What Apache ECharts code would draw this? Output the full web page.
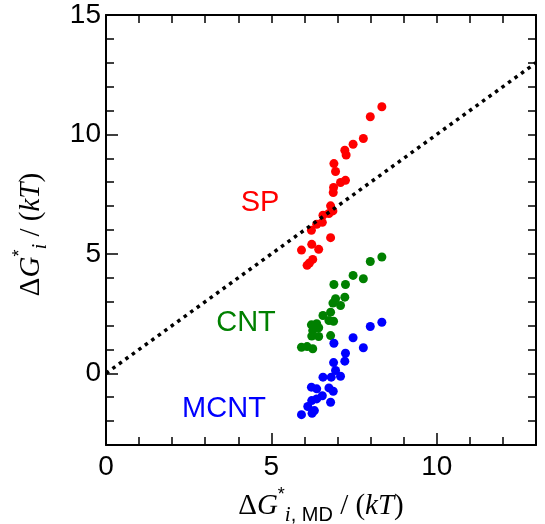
<!DOCTYPE html>
<html>
<head>
<meta charset="utf-8">
<script src="https://cdn.jsdelivr.net/npm/echarts@6/dist/echarts.min.js"></script>
<style>
html, body { margin: 0; padding: 0; background: #fff; }
#chart { width: 545px; height: 524px; }
</style>
</head>
<body>
<div id="chart"></div>
<script>
// tick labels
const xTickLabels = [0, 5, 10];
const yTickLabels = [0, 5, 10, 15];

// data: [dG_MD, dG]
const spPoints = [
    [8.34, 11.16], [7.99, 10.74], [7.78, 9.83], [7.47, 9.59], [7.22, 9.34], [7.26, 9.14],
    [6.89, 8.78], [6.94, 8.45], [7.24, 8.08], [7.09, 7.99], [6.88, 7.78], [6.87, 7.57],
    [6.79, 7.01], [6.86, 6.80], [6.74, 6.69], [6.56, 6.62], [6.54, 6.32], [6.37, 6.24],
    [6.21, 5.99], [6.79, 5.68], [6.22, 5.40], [6.43, 5.19], [5.91, 5.16], [6.25, 4.77],
    [6.15, 4.62], [6.08, 4.52]
];
const cntPoints = [
    [8.34, 4.87], [7.99, 4.68], [7.47, 4.10], [7.78, 3.96], [6.89, 3.72], [7.24, 3.72],
    [7.22, 3.19], [6.94, 3.12], [6.86, 2.94], [7.09, 2.84], [6.79, 2.56], [6.56, 2.42],
    [6.74, 2.21], [6.88, 2.18], [6.37, 2.08], [6.21, 2.03], [6.43, 1.91], [6.25, 1.79],
    [6.79, 1.58], [6.22, 1.56], [6.43, 1.54], [5.91, 1.09], [6.08, 1.12], [6.25, 1.03]
];
const mcntPoints = [
    [8.34, 2.14], [7.99, 1.96], [7.47, 1.49], [7.78, 1.07], [6.89, 1.26], [7.24, 0.84],
    [7.22, 0.51], [6.88, 0.45], [6.94, 0.12], [7.09, -0.12], [6.81, -0.16], [6.56, -0.16],
    [6.74, -0.61], [6.87, -0.75], [6.21, -0.58], [6.37, -0.65], [6.54, -0.94], [6.37, -1.07],
    [6.22, -1.14], [6.79, -1.21], [6.10, -1.39], [6.30, -1.56], [6.23, -1.67], [5.91, -1.73]
];
// y = x reference line
const diagonal = [[0, 0], [13, 13]];

const sans = 'Liberation Sans';
const serif = 'Liberation Serif';

const chart = echarts.init(document.getElementById('chart'));

// rich styles for the axis titles
const nameRich = {
    d: {fontFamily: serif, fontSize: 29, lineHeight: 40, color: '#000'},
    g: {fontFamily: serif, fontStyle: 'italic', fontSize: 29, lineHeight: 40, color: '#000'},
    sup: {fontFamily: sans, fontSize: 18, lineHeight: 18, verticalAlign: 'top', color: '#000'},
    sub: {fontFamily: serif, fontStyle: 'italic', fontSize: 21, lineHeight: 20, verticalAlign: 'bottom', color: '#000'},
    md: {fontFamily: sans, fontSize: 20, lineHeight: 20, verticalAlign: 'bottom', color: '#000'},
    s: {fontFamily: serif, fontSize: 29, lineHeight: 40, color: '#000'},
    k: {fontFamily: serif, fontStyle: 'italic', fontSize: 29, lineHeight: 40, color: '#000'}
};

// a framed axis, ticks inside, no labels
const frame = extra => Object.assign({
    type: 'value',
    splitLine: {show: false},
    axisLine: {show: true, onZero: false, lineStyle: {color: '#000', width: 2}},
    axisTick: {show: true, inside: true, length: 8, lineStyle: {color: '#000', width: 1.5}},
    axisLabel: {show: false}
}, extra);

const majorTicks = values => ({
    show: true, inside: true, length: 12, customValues: values,
    lineStyle: {color: '#000', width: 1.5}
});

const tickLabel = values => ({
    show: true, customValues: values, fontFamily: sans, fontSize: 28, color: '#000'
});

const option = {
    animation: false,
    backgroundColor: '#fff',
    grid: {left: 106, right: 9, top: 15, bottom: 79, outerBoundsMode: 'none', containLabel: false},
    xAxis: [
        frame({
            min: 0, max: 13, interval: 1, position: 'bottom',
            axisLabel: Object.assign(tickLabel(xTickLabels), {margin: 8}),
            name: '{d|Δ}{g|G}{sup|*}{sub|i}{md|, MD}{s| / (}{k|kT}{s|)}',
            nameLocation: 'middle', nameGap: 39,
            nameTextStyle: {rich: nameRich}
        }),
        frame({min: 0, max: 13, interval: 1, position: 'top'}),
        frame({min: 0, max: 13, interval: 1, position: 'bottom',
            axisLine: {show: false, onZero: false}, axisTick: majorTicks(xTickLabels)})
    ],
    yAxis: [
        frame({
            min: -3, max: 15, interval: 1, position: 'left',
            axisLabel: Object.assign(tickLabel(yTickLabels), {margin: 5}),
            name: '{d|Δ}{g|G}{sup|*}{sub|i}{s| / (}{k|kT}{s|)}',
            nameLocation: 'middle', nameGap: 55, nameRotate: 90,
            nameTextStyle: {rich: nameRich, padding: [0, 9, 0, 0]}
        }),
        frame({min: -3, max: 15, interval: 1, position: 'right'}),
        frame({min: -3, max: 15, interval: 1, position: 'left',
            axisLine: {show: false, onZero: false}, axisTick: majorTicks(yTickLabels)})
    ],
    series: [
        {type: 'scatter', data: spPoints, symbolSize: 9, itemStyle: {color: '#ff0000', opacity: 1}},
        {type: 'scatter', data: cntPoints, symbolSize: 9, itemStyle: {color: '#008000', opacity: 1}},
        {type: 'scatter', data: mcntPoints, symbolSize: 9, itemStyle: {color: '#0000ff', opacity: 1}},
        {
            type: 'line', data: diagonal, symbol: 'none', z: 5,
            lineStyle: {color: '#000', width: 3.5, type: [3.5, 4.5], cap: 'butt'}
        }
    ],
    graphic: [
        {type: 'text', style: {text: 'SP', x: 260, y: 203, textAlign: 'center', textVerticalAlign: 'middle',
            font: '29px "Liberation Sans"', fill: '#ff0000'}},
        {type: 'text', style: {text: 'CNT', x: 246, y: 323, textAlign: 'center', textVerticalAlign: 'middle',
            font: '29px "Liberation Sans"', fill: '#008000'}},
        {type: 'text', style: {text: 'MCNT', x: 224, y: 409, textAlign: 'center', textVerticalAlign: 'middle',
            font: '29px "Liberation Sans"', fill: '#0000ff'}}
    ]
};

chart.setOption(option);
</script>
</body>
</html>
